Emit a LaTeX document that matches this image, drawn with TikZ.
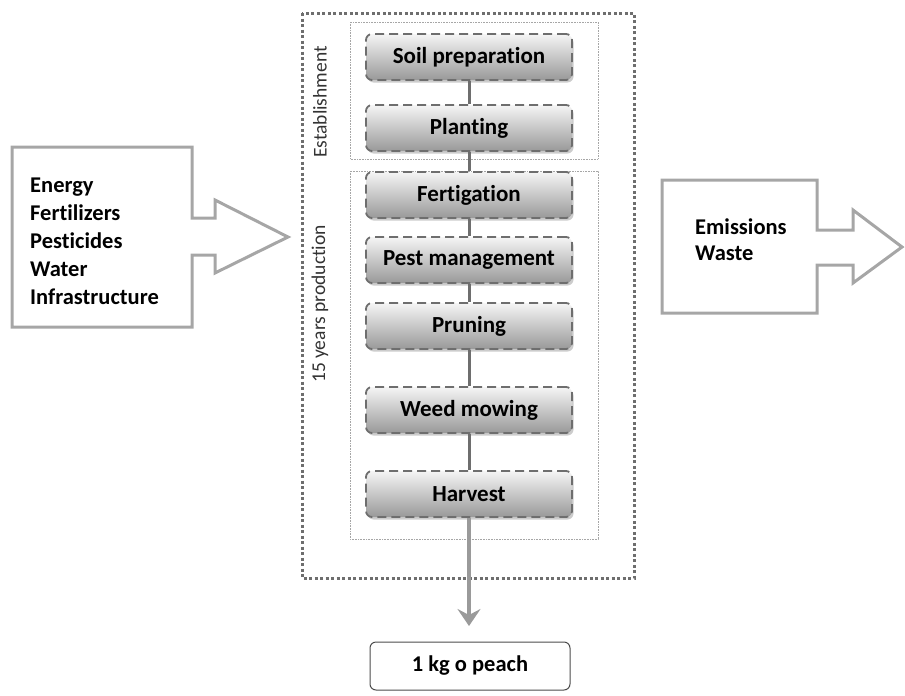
\documentclass[tikz,border=0pt]{standalone}
\usepackage{fontspec}
\setmainfont[Ligatures=NoCommon]{Carlito}
\usetikzlibrary{shadows,arrows.meta}
\definecolor{dgray}{HTML}{6E6E6E}
\definecolor{lgray}{HTML}{A6A6A6}
\definecolor{bgray}{HTML}{9A9A9A}
\begin{document}
\begin{tikzpicture}[x=1pt,y=-1pt,
  stepbox/.style={rounded corners=6pt, minimum width=206pt, minimum height=46pt, inner sep=0pt,
    draw=dgray, line width=1.8pt, dash pattern=on 9pt off 5pt,
    top color=white!92!gray, bottom color=gray!80, shading angle=0,
    drop shadow={opacity=0.4, shadow xshift=1.5pt, shadow yshift=-2.5pt},
    font=\fontsize{23}{26}\selectfont\bfseries},
  link/.style={draw=dgray, line width=3pt},
  blockarrow/.style={draw=lgray, line width=3pt, line join=miter},
  inlabel/.style={anchor=west, align=left, inner sep=0pt, font=\fontsize{22.5}{28}\selectfont\bfseries},
  sidelabel/.style={rotate=90, inner sep=0pt, text=black!80, font=\fontsize{19.5}{22}\selectfont},
  thinbox/.style={draw=gray!70, line width=0.6pt, densely dotted},
]
\useasboundingbox (0,0) rectangle (905,696);
% outer dotted frame
\draw[draw=dgray, line width=3pt, dash pattern=on 3pt off 2.5pt] (302,13) rectangle (634,578);
% thin phase boxes
\draw[thinbox] (350,22) rectangle (598,159);
\draw[thinbox] (350,171) rectangle (598,539);
% phase labels
\node[sidelabel] (lest) at (320,102) {Establishment};
\node[sidelabel] (lprod) at (320,304) {15 years production};
% steps
\node[stepbox] (soil) at (469,57) {Soil preparation};
\node[stepbox] (plant) at (469,128) {Planting};
\node[stepbox] (fert) at (469,195) {Fertigation};
\node[stepbox] (pest) at (469,260) {Pest management};
\node[stepbox] (prun) at (469,326) {Pruning};
\node[stepbox] (weed) at (469,410) {Weed mowing};
\node[stepbox] (harv) at (469,494) {Harvest};
\draw[link] (soil.south) -- (plant.north);
\draw[link] (plant.south) -- (fert.north);
\draw[link] (fert.south) -- (pest.north);
\draw[link] (pest.south) -- (prun.north);
\draw[link] (prun.south) -- (weed.north);
\draw[link] (weed.south) -- (harv.north);
% output
\node[draw=black!70, line width=1pt, rounded corners=6pt, minimum width=200pt, minimum height=48pt,
  font=\fontsize{22.5}{26}\selectfont\bfseries] (peach) at (470,666) {1 kg o peach};
\coordinate (tip) at (469,626);
\draw[draw=bgray, line width=4pt, -{Stealth[length=17pt, width=23pt, inset=6pt]}] (harv.south) -- (tip);
% input block arrow
\draw[blockarrow] (12,147) -- (192,147) -- (192,218) -- (215,218) -- (215,200) -- (288,237)
  -- (215,273) -- (215,255) -- (192,255) -- (192,327) -- (12,327) -- cycle;
\node[inlabel] (inputs) at (30,241) {Energy\\Fertilizers\\Pesticides\\Water\\Infrastructure};
% output block arrow
\draw[blockarrow] (662,180) -- (817,180) -- (817,230) -- (853,230) -- (853,210) -- (902,247)
  -- (853,283) -- (853,265) -- (817,265) -- (817,313) -- (662,313) -- cycle;
\node[inlabel, font=\fontsize{22.5}{26}\selectfont\bfseries] (outs) at (695,240) {Emissions\\Waste};
\end{tikzpicture}
\end{document}
